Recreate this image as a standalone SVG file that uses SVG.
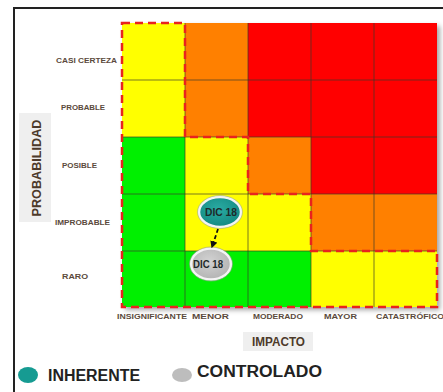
<svg xmlns="http://www.w3.org/2000/svg" width="443" height="392" viewBox="0 0 443 392">
<defs>
<style>
.lbl{font-family:"Liberation Sans",Arial,sans-serif;font-weight:bold;font-size:8px;fill:#5b4a3c}
.col{font-family:"Liberation Sans",Arial,sans-serif;font-weight:bold;font-size:7.5px;fill:#5b4a3c}
.axis{font-family:"Liberation Sans",Arial,sans-serif;font-weight:bold;font-size:12.5px;fill:#4d3a2a}
.leg{font-family:"Liberation Sans",Arial,sans-serif;font-weight:bold;font-size:16px;fill:#222}
.bub{font-family:"Liberation Sans",Arial,sans-serif;font-weight:bold;font-size:10px;fill:#1e2a2a;text-anchor:middle}
.y{fill:#ffff00}.o{fill:#ff8000}.r{fill:#ff0000}.g{fill:#00f000}
.grid{stroke:#3a3a2a;stroke-width:0.8;fill:none;stroke-opacity:0.85}
</style>
<filter id="sh" x="-10%" y="-10%" width="120%" height="120%">
<feDropShadow dx="3" dy="3" stdDeviation="2.5" flood-color="#000" flood-opacity="0.35"/>
</filter>
<radialGradient id="teal" cx="0.45" cy="0.4" r="0.6">
<stop offset="0" stop-color="#2aaba3"/><stop offset="1" stop-color="#148a82"/>
</radialGradient>
<radialGradient id="gray" cx="0.45" cy="0.4" r="0.6">
<stop offset="0" stop-color="#d2d2d2"/><stop offset="1" stop-color="#b4b4b4"/>
</radialGradient>
<marker id="ah" viewBox="0 0 10 10" refX="8" refY="5" markerWidth="4" markerHeight="4" orient="auto">
<path d="M0,0 L10,5 L0,10 Z" fill="#111"/>
</marker>
</defs>
<rect width="443" height="392" fill="#fff"/>
<path d="M14,392 V8 H443" fill="none" stroke="#222" stroke-width="2"/>

<g id="matrix">
<rect x="122" y="23" width="315" height="284" fill="#fff" filter="url(#sh)"/>
<rect class="y" x="122" y="23" width="63" height="57"/><rect class="o" x="185" y="23" width="63" height="57"/><rect class="r" x="248" y="23" width="189" height="57"/>
<rect class="y" x="122" y="80" width="63" height="57"/><rect class="o" x="185" y="80" width="63" height="57"/><rect class="r" x="248" y="80" width="189" height="57"/>
<rect class="g" x="122" y="137" width="63" height="57"/><rect class="y" x="185" y="137" width="63" height="57"/><rect class="o" x="248" y="137" width="63" height="57"/><rect class="r" x="311" y="137" width="126" height="57"/>
<rect class="g" x="122" y="194" width="63" height="57"/><rect class="y" x="185" y="194" width="126" height="57"/><rect class="o" x="311" y="194" width="126" height="57"/>
<rect class="g" x="122" y="251" width="189" height="56"/><rect class="y" x="311" y="251" width="126" height="56"/>
<path class="grid" d="M185,23V307M248,23V307M311,23V307M374,23V307M122,80H437M122,137H437M122,194H437M122,251H437"/>
<path d="M122,23 H185 V137 H248 V194 H311 V251 H437 V307 H122 Z" fill="none" stroke="#e8231e" stroke-width="2.5" stroke-dasharray="8,5"/>
</g>

<g id="row-labels">
<text class="lbl" x="56" y="63" textLength="61" lengthAdjust="spacingAndGlyphs">CASI CERTEZA</text>
<text class="lbl" x="61" y="110" textLength="44" lengthAdjust="spacingAndGlyphs">PROBABLE</text>
<text class="lbl" x="62" y="168" textLength="35" lengthAdjust="spacingAndGlyphs">POSIBLE</text>
<text class="lbl" x="55" y="225" textLength="55" lengthAdjust="spacingAndGlyphs">IMPROBABLE</text>
<text class="lbl" x="62" y="279" textLength="26" lengthAdjust="spacingAndGlyphs">RARO</text>
</g>

<g id="col-labels">
<text class="col" x="117" y="319" textLength="70" lengthAdjust="spacingAndGlyphs">INSIGNIFICANTE</text>
<text class="col" x="192" y="319" textLength="37" lengthAdjust="spacingAndGlyphs">MENOR</text>
<text class="col" x="253" y="319" textLength="50" lengthAdjust="spacingAndGlyphs">MODERADO</text>
<text class="col" x="324" y="319" textLength="33" lengthAdjust="spacingAndGlyphs">MAYOR</text>
<text class="col" x="376" y="319" textLength="68" lengthAdjust="spacingAndGlyphs">CATASTRÓFICO</text>
</g>

<g id="axis-probabilidad">
<rect x="19" y="113" width="32" height="109" fill="#efefef"/>
<text class="axis" transform="translate(41,168) rotate(-90)" text-anchor="middle" textLength="97" lengthAdjust="spacingAndGlyphs">PROBABILIDAD</text>
</g>

<g id="axis-impacto">
<rect x="243" y="332" width="70" height="19" fill="#efefef"/>
<text class="axis" x="252" y="346" textLength="53" lengthAdjust="spacingAndGlyphs">IMPACTO</text>
</g>

<g id="inherente">
<ellipse cx="220" cy="212" rx="21" ry="15" fill="url(#teal)" stroke="#f4f4f4" stroke-width="2.5"/>
<ellipse cx="220" cy="212" rx="22.5" ry="16.5" fill="none" stroke="#9aa" stroke-width="0.6"/>
<text class="bub" x="221" y="216" textLength="32" lengthAdjust="spacingAndGlyphs">DIC 18</text>
</g>

<g id="controlado">
<ellipse cx="211" cy="264" rx="20" ry="15.5" fill="url(#gray)" stroke="#f4f4f4" stroke-width="2.5"/>
<ellipse cx="211" cy="264" rx="21.5" ry="17" fill="none" stroke="#999" stroke-width="0.6"/>
<text class="bub" x="208" y="267.5" textLength="30" lengthAdjust="spacingAndGlyphs">DIC 18</text>
</g>

<g id="connectors">
<path d="M218,229 L212,247" fill="none" stroke="#111" stroke-width="1.8" stroke-dasharray="4,2.5" marker-end="url(#ah)"/>
</g>

<g id="legend">
<ellipse cx="28" cy="375" rx="10" ry="8" fill="#169b92"/>
<text class="leg" x="48" y="381" textLength="92" lengthAdjust="spacingAndGlyphs">INHERENTE</text>
<ellipse cx="182" cy="375" rx="10" ry="7" fill="#bdbdbd"/>
<text class="leg" x="197" y="377" textLength="125" lengthAdjust="spacingAndGlyphs">CONTROLADO</text>
</g>
</svg>
